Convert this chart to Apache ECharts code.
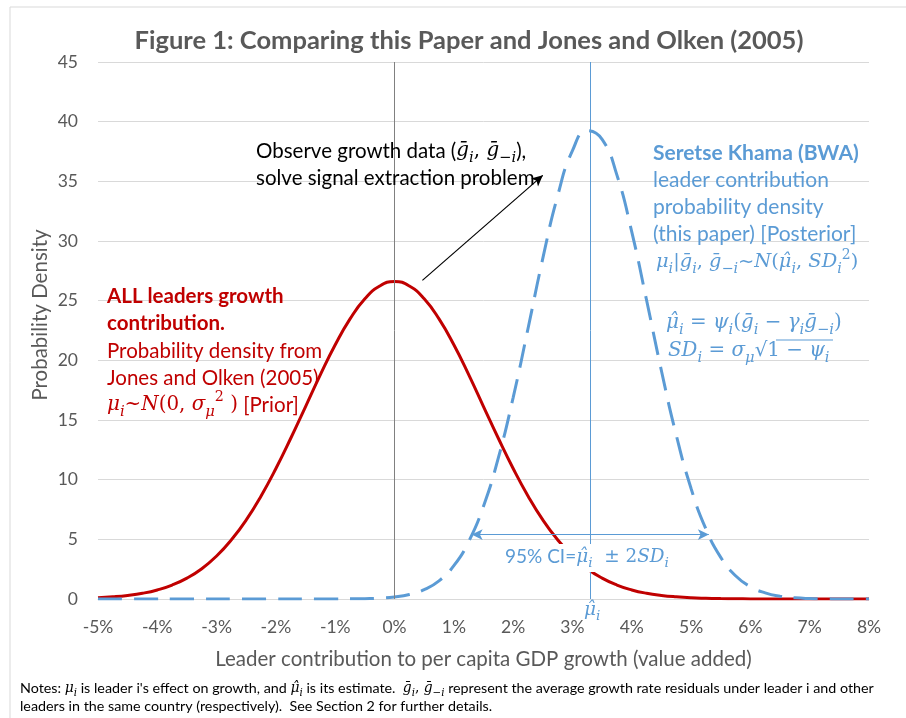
<!DOCTYPE html>
<html><head><meta charset="utf-8">
<script src="https://cdn.jsdelivr.net/npm/echarts@6/dist/echarts.min.js"></script>
<style>html,body{margin:0;padding:0;background:#fff}#c{width:906px;height:718px}</style>
</head><body><div id="c"></div>
<script>
// x grid (percent)
const xs = [-5,-4.75,-4.5,-4.25,-4,-3.75,-3.5,-3.25,-3,-2.75,-2.5,-2.25,-2,-1.75,-1.5,-1.25,-1,-0.75,-0.5,-0.25,0,0.25,0.5,0.75,1,1.25,1.5,1.75,2,2.25,2.5,2.75,3,3.25,3.5,3.75,4,4.25,4.5,4.75,5,5.25,5.5,5.75,6,6.25,6.5,6.75,7,7.25,7.5,7.75,8];
// Prior: all leaders (Jones and Olken 2005)
const priorDensity = [0.10,0.18,0.30,0.48,0.76,1.17,1.75,2.54,3.60,4.96,6.63,8.64,10.94,13.47,16.13,18.80,21.30,23.47,25.16,26.23,26.60,26.23,25.16,23.47,21.30,18.80,16.13,13.47,10.94,8.64,6.63,4.96,3.60,2.54,1.75,1.17,0.76,0.48,0.30,0.18,0.10,0.058,0.032,0.017,0.009,0.005,0.002,0.001,0.001,0,0,0,0];
// Posterior: Seretse Khama (BWA)
const posteriorDensity = [0,0,0,0,0,0,0,0,0,0,0,0,0,0,0,0.001,0.004,0.011,0.03,0.07,0.17,0.38,0.78,1.52,2.79,4.81,7.78,11.82,16.88,22.65,28.54,33.78,37.57,39.25,38.52,35.52,30.76,25.03,19.13,13.74,9.26,5.87,3.49,1.95,1.03,0.51,0.23,0.10,0.04,0.016,0.006,0.002,0.001];
const yTicks = [0,5,10,15,20,25,30,35,40,45];
const muHat = 3.3;
const ciLow = 1.3, ciHigh = 5.3, ciY = 5.4;
const arrowFrom = [0.47, 26.7], arrowTo = [2.5, 35.5];

const RED = '#C00000', BLUE = '#5B9BD5', GRAY = '#595959';
const BODY = 'Lato';
const MATH = 'DejaVu Serif';

function richSet(color, size) {
  const m = size * 0.97;
  return {
    n: {fill: color, color: color, fontFamily: BODY, fontSize: size},
    b: {fill: color, color: color, fontFamily: BODY, fontSize: size, fontWeight: 'bold'},
    m: {fill: color, color: color, fontFamily: MATH, fontStyle: 'italic', fontSize: m},
    r: {fill: color, color: color, fontFamily: MATH, fontSize: m},
    s: {fill: color, color: color, fontFamily: MATH, fontStyle: 'italic', fontSize: m * 0.74, verticalAlign: 'bottom', lineHeight: size * 1.4},
    u: {fill: color, color: color, fontFamily: MATH, fontSize: m * 0.72, verticalAlign: 'top', lineHeight: size * 1.4}
  };
}
function txt(x, y, text, color, size, extra) {
  return {
    type: 'text', x: x, y: y, z: 50,
    style: Object.assign({text: text, fill: color, fontFamily: BODY, fontSize: size, verticalAlign: 'middle', align: 'left', rich: richSet(color, size)}, extra || {})
  };
}

const chart = echarts.init(document.getElementById('c'), null, {renderer: 'canvas'});
chart.setOption({
  backgroundColor: '#fff',
  animation: false,
  title: {
    text: 'Figure 1: Comparing this Paper and Jones and Olken (2005)',
    left: 464, top: 23, textAlign: 'center',
    textStyle: {fontFamily: BODY, fontWeight: 'bold', fontSize: 25.5, color: GRAY}
  },
  grid: {left: 98, right: 37, top: 62, bottom: 119},
  xAxis: {
    type: 'value', min: -5, max: 8, interval: 1,
    axisLine: {show: true, onZero: true, lineStyle: {color: '#D9D9D9', width: 1}},
    axisTick: {show: false}, splitLine: {show: false},
    axisLabel: {formatter: '{value}%', color: GRAY, fontFamily: BODY, fontSize: 17.5, margin: 19},
    name: 'Leader contribution to per capita GDP growth (value added)',
    nameLocation: 'middle', nameGap: 50,
    nameTextStyle: {color: GRAY, fontFamily: BODY, fontSize: 20.5}
  },
  yAxis: {
    type: 'value', min: 0, max: 45, interval: 5,
    axisLine: {show: false}, axisTick: {show: false},
    splitLine: {lineStyle: {color: '#D9D9D9', width: 1}},
    axisLabel: {color: GRAY, fontFamily: BODY, fontSize: 17.5, margin: 20,
      formatter: function (v) { return yTicks.indexOf(v) >= 0 ? String(v) : ''; }}
  },
  series: [
    {
      name: 'Prior', type: 'line', smooth: true, symbol: 'none', z: 3,
      data: xs.map((x, i) => [x, priorDensity[i]]),
      lineStyle: {color: RED, width: 3},
      markLine: {
        silent: true, animation: false, symbol: 'none', label: {show: false},
        data: [
          {xAxis: 0, lineStyle: {color: '#808080', width: 1, type: 'solid'}},
          [{coord: arrowFrom, symbol: 'none'}, {coord: arrowTo, symbol: 'arrow', symbolSize: [8, 11]}]
        ],
        lineStyle: {color: '#000', width: 1.2, type: 'solid'}
      }
    },
    {
      name: 'Posterior', type: 'line', smooth: true, symbol: 'none', z: 4,
      data: xs.map((x, i) => [x, posteriorDensity[i]]),
      lineStyle: {color: BLUE, width: 3, type: [24, 12]},
      markLine: {
        silent: true, animation: false, symbol: 'none', label: {show: false},
        lineStyle: {color: BLUE, width: 1, type: 'solid'},
        data: [
          {xAxis: muHat},
          [{coord: [ciLow, ciY], symbol: 'arrow', symbolSize: [8, 11]}, {coord: [ciHigh, ciY], symbol: 'arrow', symbolSize: [8, 11]}]
        ]
      }
    }
  ],
  graphic: [
    {type: 'line', z: 0, shape: {x1: 10, y1: 7, x2: 906, y2: 7}, style: {stroke: '#D9D9D9', lineWidth: 1}},
    {type: 'line', z: 0, shape: {x1: 10, y1: 7, x2: 10, y2: 718}, style: {stroke: '#D9D9D9', lineWidth: 1}},
    // y axis title
    {type: 'text', x: 40, y: 315, rotation: Math.PI / 2, z: 50,
     style: {text: 'Probability Density', fill: GRAY, fontFamily: BODY, fontSize: 20.5, align: 'center', verticalAlign: 'middle'}},
    // black annotation
    txt(256, 151, 'Observe growth data ({m|ḡ}{s|i}{r|, }{m|ḡ}{s|−i}{n|),}', '#000', 20.5),
    txt(256, 178, 'solve signal extraction problem', '#000', 20.5),
    // red annotation
    txt(107, 296, '{b|ALL leaders growth}', RED, 20.5),
    txt(107, 323, '{b|contribution.}', RED, 20.5),
    txt(107, 351, 'Probability density from', RED, 20.5),
    txt(107, 378, 'Jones and Olken (2005)', RED, 20.5),
    txt(107, 405, '{m|μ}{s|i}{r|~}{m|N}{r|(0, }{m|σ}{s|μ}{u|2}{r| )} {n|[Prior]}', RED, 20.5),
    // blue annotation
    txt(653, 153, '{b|Seretse Khama (BWA)}', BLUE, 21),
    txt(653, 180, 'leader contribution', BLUE, 21),
    txt(653, 207, 'probability density', BLUE, 21),
    txt(653, 234, '(this paper) [Posterior]', BLUE, 21),
    txt(656, 262, '{m|μ}{s|i}{r||}{m|ḡ}{s|i}{r|, }{m|ḡ}{s|−i}{r|~}{m|N}{r|(}{m|μ\u0302}{s|i}{r|, }{m|SD}{s|i}{u|2}{r|)}', BLUE, 20),
    txt(666, 323, '{m|μ\u0302}{s|i}{r| = }{m|ψ}{s|i}{r|(}{m|ḡ}{s|i}{r| − }{m|γ}{s|i}{m|ḡ}{s|−i}{r|)}', BLUE, 20.5),
    txt(668, 351, '{m|SD}{s|i}{r| = }{m|σ}{s|μ}{r|√}{r|1 − }{m|ψ}{s|i}', BLUE, 20.5),
    {type: 'line', z: 50, shape: {x1: 776, y1: 340, x2: 833, y2: 340}, style: {stroke: BLUE, lineWidth: 1}},
    // CI label
    {type: 'rect', z: 40, shape: {x: 500, y: 544, width: 178, height: 28}, style: {fill: '#fff'}},
    txt(505, 557, '95% CI={m|μ\u0302}{s|i}{r|  ± 2}{m|SD}{s|i}', BLUE, 19),
    txt(584, 610, '{m|μ\u0302}{s|i}', BLUE, 19),
    // notes
    txt(20, 688, 'Notes: {m|μ}{s|i} is leader i\'s effect on growth, and {m|μ\u0302}{s|i} is its estimate.  {m|ḡ}{s|i}{r|, }{m|ḡ}{s|−i} represent the average growth rate residuals under leader i and other', '#000', 14.3),
    txt(20, 706, 'leaders in the same country (respectively).  See Section 2 for further details.', '#000', 14.3)
  ]
});
</script></body></html>
